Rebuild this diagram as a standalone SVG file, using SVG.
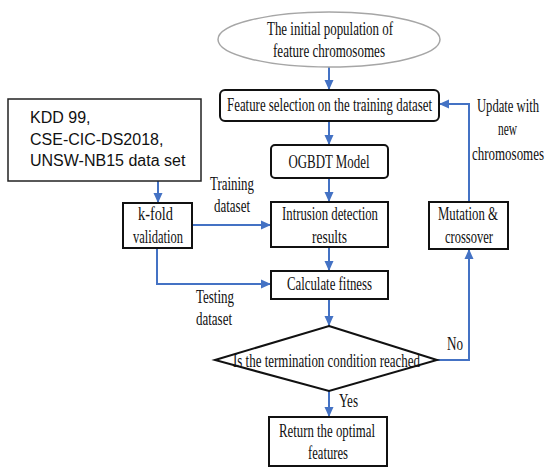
<svg xmlns="http://www.w3.org/2000/svg" width="550" height="473" viewBox="0 0 550 473">
<defs>
<marker id="ah" markerUnits="userSpaceOnUse" markerWidth="10" markerHeight="10" viewBox="0 0 10 10" refX="10" refY="5" orient="auto">
<path d="M0,0.5 L10,5 L0,9.5 Z" fill="#4472c4"/>
</marker>
<style>
.box{fill:#fff;stroke:#111;stroke-width:2}
.t{font-family:"Liberation Serif","Times New Roman",serif;font-size:18px;fill:#111;text-anchor:middle}
.s{font-family:"Liberation Sans",Arial,sans-serif;font-size:16px;fill:#111}
.c{fill:none;stroke:#4472c4;stroke-width:2;marker-end:url(#ah)}
</style>
</defs>
<rect width="550" height="473" fill="#fff"/>
<g id="connectors">
<line class="c" x1="329" y1="67" x2="329" y2="90"/>
<line class="c" x1="329" y1="121" x2="329" y2="145"/>
<line class="c" x1="329" y1="178" x2="329" y2="202"/>
<line class="c" x1="329" y1="247" x2="329" y2="271"/>
<line class="c" x1="329" y1="299" x2="329" y2="326"/>
<line class="c" x1="329" y1="391" x2="329" y2="417"/>
<polyline class="c" points="437,360 469,360 469,249"/>
<polyline class="c" points="469,202 469,104 439,104"/>
<line class="c" x1="158" y1="181" x2="158" y2="203"/>
<line class="c" x1="192" y1="225" x2="271" y2="225"/>
<polyline class="c" points="157,248 157,284 271,284"/>
</g>
<g id="init">
<ellipse cx="329" cy="39.5" rx="111" ry="27.5" fill="#fff" stroke="#a6a6a6" stroke-width="1.5"/>
<text class="t" x="330" y="35" textLength="126" lengthAdjust="spacingAndGlyphs">The initial population of</text>
<text class="t" x="329" y="57" textLength="112" lengthAdjust="spacingAndGlyphs">feature chromosomes</text>
</g>
<g id="featsel">
<rect class="box" x="220" y="90" width="219" height="31" rx="5"/>
<text class="t" x="329.5" y="111" textLength="205" lengthAdjust="spacingAndGlyphs">Feature selection on the training dataset</text>
</g>
<g id="ogbdt">
<rect class="box" x="271" y="145" width="117" height="33" rx="4"/>
<text class="t" x="329" y="168" textLength="81" lengthAdjust="spacingAndGlyphs">OGBDT Model</text>
</g>
<g id="intrusion">
<rect class="box" x="271" y="202" width="117" height="45"/>
<text class="t" x="330" y="220" textLength="96" lengthAdjust="spacingAndGlyphs">Intrusion detection</text>
<text class="t" x="329.5" y="243" textLength="35" lengthAdjust="spacingAndGlyphs">results</text>
</g>
<g id="fitness">
<rect class="box" x="271" y="271" width="117" height="28"/>
<text class="t" x="329.5" y="290" textLength="85" lengthAdjust="spacingAndGlyphs">Calculate fitness</text>
</g>
<g id="decision">
<polygon points="329,326 437,360 329,391 215,360" fill="#fff" stroke="#111" stroke-width="2"/>
<text class="t" x="326.5" y="367" textLength="187" lengthAdjust="spacingAndGlyphs">Is the termination condition reached</text>
</g>
<g id="result">
<rect class="box" x="269" y="417" width="118" height="49"/>
<text class="t" x="327" y="437" textLength="96" lengthAdjust="spacingAndGlyphs">Return the optimal</text>
<text class="t" x="328" y="459" textLength="40" lengthAdjust="spacingAndGlyphs">features</text>
</g>
<g id="mutation">
<rect class="box" x="429" y="202" width="79" height="47"/>
<text class="t" x="468" y="220" textLength="60" lengthAdjust="spacingAndGlyphs">Mutation &amp;</text>
<text class="t" x="469" y="243" textLength="48" lengthAdjust="spacingAndGlyphs">crossover</text>
</g>
<g id="dataset">
<rect x="8" y="99" width="193" height="82" fill="#fff" stroke="#222" stroke-width="1.5"/>
<text class="s" x="30" y="123">KDD 99,</text>
<text class="s" x="30" y="145">CSE-CIC-DS2018,</text>
<text class="s" x="30" y="166">UNSW-NB15 data set</text>
</g>
<g id="kfold">
<rect class="box" x="123" y="203" width="69" height="45"/>
<text class="t" x="155.5" y="220" textLength="35" lengthAdjust="spacingAndGlyphs">k-fold</text>
<text class="t" x="158" y="243" textLength="50" lengthAdjust="spacingAndGlyphs">validation</text>
</g>
<g id="labels">
<text class="t" x="232" y="190" textLength="44" lengthAdjust="spacingAndGlyphs">Training</text>
<text class="t" x="232" y="212" textLength="36" lengthAdjust="spacingAndGlyphs">dataset</text>
<text class="t" x="215" y="303" textLength="38" lengthAdjust="spacingAndGlyphs">Testing</text>
<text class="t" x="214" y="325" textLength="36" lengthAdjust="spacingAndGlyphs">dataset</text>
<text class="t" x="348.5" y="407" textLength="19" lengthAdjust="spacingAndGlyphs">Yes</text>
<text class="t" x="455" y="350" textLength="16" lengthAdjust="spacingAndGlyphs">No</text>
<text class="t" x="508" y="112" textLength="62" lengthAdjust="spacingAndGlyphs">Update with</text>
<text class="t" x="507.5" y="135" textLength="19" lengthAdjust="spacingAndGlyphs">new</text>
<text class="t" x="508" y="160" textLength="72" lengthAdjust="spacingAndGlyphs">chromosomes</text>
</g>
</svg>
